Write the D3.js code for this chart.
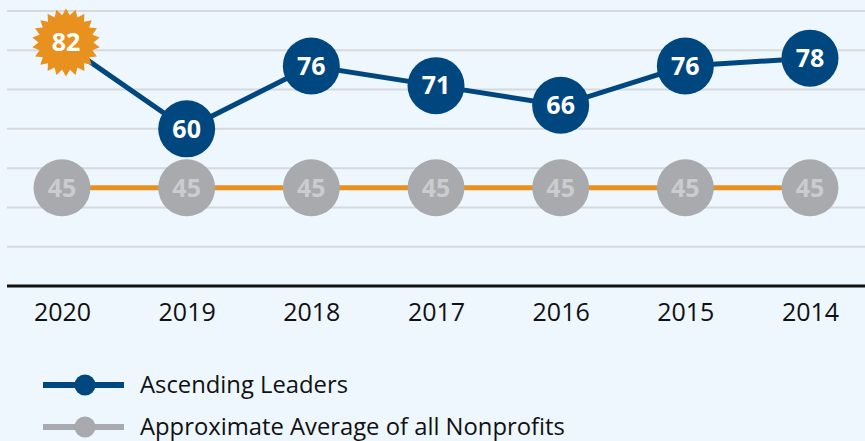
<!DOCTYPE html>
<html>
<head>
<meta charset="utf-8">
<script src="https://cdn.jsdelivr.net/npm/d3@7"></script>
<style>
  body { margin: 0; background: #edf7fd; }
  svg { display: block; }
</style>
</head>
<body>
<svg id="chart-svg" width="865" height="441"></svg>
<script>
const years = ['2020', '2019', '2018', '2017', '2016', '2015', '2014'];
const leaders = [82, 60, 76, 71, 66, 76, 78];
const average = [45, 45, 45, 45, 45, 45, 45];
const gridValues = [30, 40, 50, 60, 70, 80, 90];
const legendLabels = ['Ascending Leaders', 'Approximate Average of all Nonprofits'];

const blue = '#00477f';
const orange = '#e8911e';
const grey = '#a9aaad';
const font = '"Open Sans", sans-serif';

let svg = d3.select('#chart-svg');

let x = d3.scalePoint().domain(years).range([62, 810]);
let y = d3.scaleLinear().domain([20, 90]).range([286, 11]);

// gridlines
svg.append('g')
    .selectAll('line')
    .data(gridValues)
    .join('line')
    .attr('x1', 7).attr('x2', 865)
    .attr('y1', d => y(d)).attr('y2', d => y(d))
    .attr('stroke', '#d6dadd')
    .attr('stroke-width', 2);

// x axis
const xAxis = svg.append('g')
    .attr('transform', 'translate(0,' + y(20) + ')')
    .call(d3.axisBottom(x).tickSize(0).tickPadding(17));
xAxis.select('.domain')
    .attr('d', 'M7,0H865')
    .attr('stroke', '#111')
    .attr('stroke-width', 3);
xAxis.selectAll('text')
    .attr('font-family', font)
    .attr('font-size', 25)
    .attr('fill', '#111');

let line = d3.line()
    .x((d, i) => x(years[i]))
    .y(d => y(d));

// average line (orange connector, grey dots)
svg.append('path')
    .attr('d', line(average))
    .attr('fill', 'none')
    .attr('stroke', orange)
    .attr('stroke-width', 5);

let avgG = svg.append('g').selectAll('g')
    .data(average)
    .join('g')
    .attr('transform', (d, i) => 'translate(' + x(years[i]) + ',' + y(d) + ')');
avgG.append('circle').attr('r', 28.5).attr('fill', grey);
avgG.append('text')
    .text(d => d)
    .attr('text-anchor', 'middle')
    .attr('dy', '0.35em')
    .attr('font-family', font)
    .attr('font-weight', 700)
    .attr('font-size', 25)
    .attr('fill', '#cbcccf');

// leaders line
svg.append('path')
    .attr('d', line(leaders))
    .attr('fill', 'none')
    .attr('stroke', blue)
    .attr('stroke-width', 5);

// starburst for the latest value
function starPath(rOut, rIn, n) {
    let pts = [];
    for (let k = 0; k < n * 2; k++) {
        let r = k % 2 === 0 ? rOut : rIn;
        let a = Math.PI * k / n - Math.PI / 2;
        pts.push([r * Math.cos(a), r * Math.sin(a)]);
    }
    return 'M' + pts.join('L') + 'Z';
}

let leadG = svg.append('g').selectAll('g')
    .data(leaders)
    .join('g')
    .attr('transform', (d, i) => 'translate(' + (x(years[i]) + (i === 0 ? 4 : 0)) + ',' + y(d) + ')');

leadG.each(function (d, i) {
    let g = d3.select(this);
    if (i === 0) {
        g.append('path').attr('d', starPath(34, 27.5, 22)).attr('fill', orange);
    } else {
        g.append('circle').attr('r', 28.5).attr('fill', blue);
    }
});
leadG.append('text')
    .text(d => d)
    .attr('text-anchor', 'middle')
    .attr('dy', '0.35em')
    .attr('font-family', font)
    .attr('font-weight', 700)
    .attr('font-size', 25)
    .attr('fill', '#fff');

// legend
let legend = svg.append('g').selectAll('g')
    .data(legendLabels)
    .join('g')
    .attr('transform', (d, i) => 'translate(0,' + (385 + i * 42) + ')');
legend.append('line')
    .attr('x1', 43).attr('x2', 124)
    .attr('stroke', (d, i) => i === 0 ? blue : grey)
    .attr('stroke-width', 6);
legend.append('circle')
    .attr('cx', 85)
    .attr('r', 10.5)
    .attr('fill', (d, i) => i === 0 ? blue : grey);
legend.append('text')
    .text(d => d)
    .attr('x', 140)
    .attr('y', 8)
    .attr('font-family', font)
    .attr('font-size', 23.8)
    .attr('fill', '#111');
</script>
</body>
</html>
